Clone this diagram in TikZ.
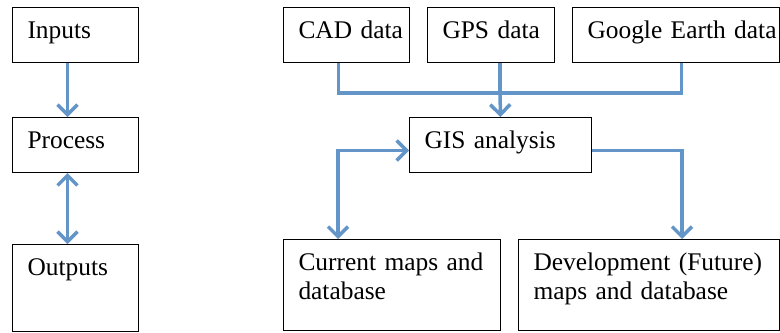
\documentclass[tikz,border=0pt]{standalone}
\usepackage{fontspec}
\setmainfont{Liberation Serif}
\usepackage{tikz}
\usetikzlibrary{arrows.meta,calc}

\definecolor{flowblue}{RGB}{100,149,200}

\tikzset{
    box/.style={draw, line width=0.5pt, anchor=north west, inner xsep=7.5pt, inner ysep=0pt,
        align=left, text height=15.25pt, font=\fontsize{12.7}{14.5}\selectfont},
    flow/.style={draw=flowblue, line width=1.75pt, -{Straight Barb[length=5pt,width=10pt]}},
    flowboth/.style={flow, {Straight Barb[length=5pt,width=10pt]}-{Straight Barb[length=5pt,width=10pt]}},
    link/.style={draw=flowblue, line width=1.75pt}
}

\begin{document}
\begin{tikzpicture}[x=0.5pt, y=-0.5pt]
        \useasboundingbox (0,0) rectangle (780,332);
        % left column
        \node[box, text width=48pt, text depth=12pt] (inputs) at (12,7) {Inputs};
        \node[box, text width=48pt, text depth=12.25pt] (process) at (12,117) {Process};
        \node[box, text width=48pt, text depth=28.25pt] (outputs) at (12,244) {Outputs};
        % data sources
        \node[box, text width=48pt, text depth=12pt] (cad) at (283,7) {\mbox{CAD data}};
        \node[box, text width=48.5pt, text depth=12pt] (gps) at (427,7) {\mbox{GPS data}};
        \node[box, text width=88.5pt, text depth=12pt] (google) at (572,7) {\mbox{Google Earth data}};
        \node[box, text width=76pt, text depth=12.25pt] (gis) at (409,117) {GIS analysis};
        \node[box, text width=93.5pt, text depth=30.25pt] (current) at (283,239) {Current maps and\\database};
        \node[box, text width=115.5pt, text depth=30.25pt] (devel) at (518,239) {Development (Future)\\maps and database};
        \coordinate (merge) at (500,93);

        \draw[flow] ([xshift=-4pt]inputs.south) -- ([xshift=-4pt]process.north);
        \draw[flowboth] ([xshift=-4pt]process.south) -- ([xshift=-4pt]outputs.north);

        \draw[link] ([xshift=-4pt]cad.south) |- (merge) -| ([xshift=2.75pt]google.south);
        \draw[link] (merge |- gps.south) -- (merge);
        \draw[flow] (merge) -- (gis.north);
        \draw[flowboth] ([xshift=27.5pt]current.north west) |- ([yshift=-2.75pt]gis.west);
        \draw[flow] ([yshift=-2.75pt]gis.east) -| ([xshift=82pt]devel.north west);
    \end{tikzpicture}
\end{document}
